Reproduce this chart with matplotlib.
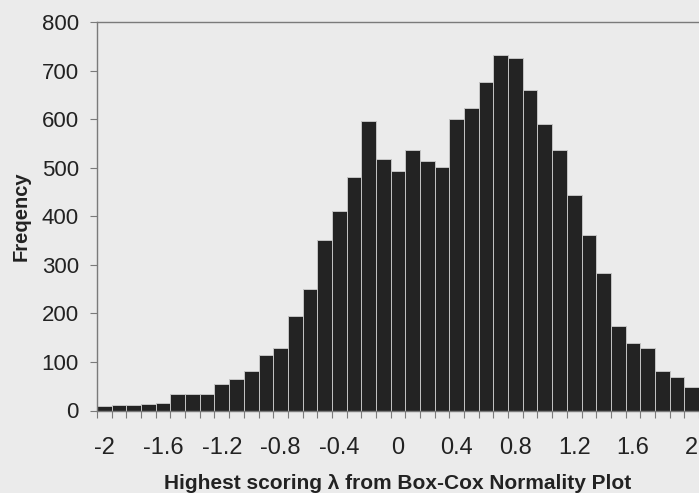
import matplotlib
matplotlib.use('Agg')
import matplotlib.pyplot as plt
import numpy as np

plt.rcParams['font.family'] = ['Liberation Sans', 'DejaVu Sans']

# histogram of best Box-Cox lambda, bins of width 0.1 centred on -2.0 ... 2.0
lam = np.round(np.arange(-2.0, 2.0001, 0.1), 1)
counts = [9, 11, 12, 13, 16, 34, 34, 35, 54, 65,
          81, 115, 128, 194, 250, 351, 411, 481, 596, 517,
          493, 536, 513, 502, 600, 622, 677, 733, 725, 661,
          589, 536, 443, 361, 283, 174, 140, 128, 81, 69,
          49]
xticks = [-2, -1.6, -1.2, -0.8, -0.4, 0, 0.4, 0.8, 1.2, 1.6, 2]
xticklabels = ['-2', '-1.6', '-1.2', '-0.8', '-0.4', '0', '0.4', '0.8', '1.2', '1.6', '2']

bg = '#ebebeb'
axis_col = '#7a7a7a'

fig = plt.figure(figsize=(6.99, 4.93), dpi=100, facecolor=bg)
ax = fig.add_axes([97 / 699, 82.5 / 493, 602 / 699, 388.5 / 493])
ax.set_facecolor(bg)

ax.bar(lam, counts, width=0.1, color='#232323', edgecolor='#c4c4c4', linewidth=0.7)

ax.set_xlim(-2.05, 2.045)
ax.set_ylim(0, 800)

ax.set_xticks(xticks)
ax.set_xticklabels(xticklabels, fontsize=17, color='#222222')
ax.set_xticks(np.arange(-2.05, 2.1, 0.1), minor=True)
ax.tick_params(axis='x', which='major', length=0, pad=19)
ax.tick_params(axis='x', which='minor', length=5, width=0.8, color=axis_col, direction='out')

ax.set_yticks(np.arange(0, 801, 100))
ax.tick_params(axis='y', length=5, width=0.8, color=axis_col, pad=8,
               labelsize=16, labelcolor='#222222')

for side in ['left', 'top', 'bottom']:
    ax.spines[side].set_color(axis_col)
    ax.spines[side].set_linewidth(1.0)
ax.spines['right'].set_visible(False)

ax.set_xlabel(u'Highest scoring λ from Box-Cox Normality Plot',
              fontsize=15, fontweight='bold', color='#222222', labelpad=11)
ax.set_ylabel('Freqency', fontsize=14.5, fontweight='bold', color='#222222', labelpad=8)

fig.savefig('out.png', dpi=100, facecolor=bg)
